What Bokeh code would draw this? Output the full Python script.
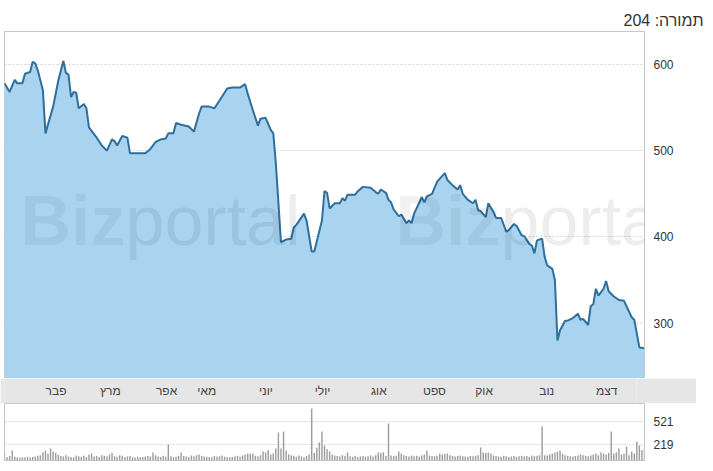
from bokeh.plotting import figure
from bokeh.models import Range1d, FixedTicker, Label
from bokeh.layouts import column
from bokeh.embed import file_html
from bokeh.resources import INLINE
from bokeh.core.properties import value

TITLE = "תמורה: 204"
MONTH_LABELS = ["פבר", "מרץ", "אפר", "מאי", "יוני", "יולי", "אוג", "ספט", "אוק", "נוב", "דצמ"]
MONTH_POS = [20.4, 41.9, 64.1, 80.0, 103.4, 125.8, 148.1, 170.1, 189.7, 214.5, 238.2]
PRICE_TICKS = [300, 400, 500, 600]
VOL_TICKS = [219, 521]

# trading-day index and closing price
PRICE_DAY = [0, 2, 4, 5, 7, 8, 10, 11, 12, 13, 15, 16, 19, 21, 23, 24, 25, 26, 27, 28,
             29, 31, 32, 33, 36, 38, 40, 42, 43, 44, 46, 48, 49, 55, 57, 59, 61, 63, 64, 66,
             67, 69, 72, 74, 76, 77, 80, 82, 84, 87, 89, 92, 94, 95, 97, 99, 100, 102, 104, 105,
             106, 108, 110, 112, 113, 114, 117, 118, 120, 121, 124, 125, 126, 127, 129, 131, 132, 133, 134, 137,
             138, 140, 143, 145, 146, 147, 149, 150, 151, 152, 154, 155, 157, 158, 159, 160, 163, 164, 165, 167,
             169, 172, 173, 175, 177, 178, 179, 181, 183, 184, 185, 186, 188, 189, 191, 192, 194, 196, 197, 199,
             200, 202, 203, 205, 206, 207, 208, 210, 211, 212, 214, 215, 216, 217, 219, 220, 222, 224, 225, 226,
             228, 229, 230, 231, 232, 234, 235, 236, 238, 240, 242, 245, 246, 248, 250]
PRICE = [578, 568, 582, 578, 578, 589, 591, 603, 601, 593, 570, 520, 551, 581, 604, 590, 588, 562, 568, 567,
         549, 554, 549, 527, 515, 506, 500, 513, 511, 506, 517, 515, 497, 497, 502, 510, 513, 514, 520, 520,
         532, 530, 528, 522, 543, 551, 551, 549, 558, 572, 573, 573, 577, 566, 547, 529, 537, 538, 524, 520,
         485, 394, 397, 398, 411, 414, 427, 419, 383, 383, 419, 453, 451, 433, 439, 439, 445, 442, 449, 449,
         453, 458, 457, 452, 450, 455, 451, 443, 440, 432, 424, 426, 416, 419, 416, 427, 446, 440, 447, 450,
         464, 474, 466, 460, 455, 460, 450, 443, 439, 443, 431, 430, 423, 439, 429, 422, 422, 406, 408, 415,
         413, 402, 401, 392, 390, 381, 396, 398, 377, 367, 363, 350, 280, 292, 303, 303, 306, 311, 304, 305,
         298, 320, 322, 340, 332, 340, 349, 337, 331, 327, 326, 307, 304, 272, 271]

VOLUME = [106, 45, 60, 133, 50, 40, 38, 45, 42, 50,
          40, 48, 55, 62, 70, 110, 133, 90, 160, 120,
          100, 75, 60, 55, 70, 52, 48, 45, 66, 58,
          50, 62, 48, 80, 93, 55, 60, 45, 70, 62,
          55, 80, 100, 58, 50, 70, 62, 48, 53, 60,
          45, 40, 50, 42, 48, 55, 60, 52, 106, 70,
          55, 48, 62, 50, 213, 58, 45, 50, 60, 106,
          60, 52, 48, 66, 58, 70, 80, 62, 55, 50,
          48, 45, 60, 52, 58, 66, 50, 45, 42, 48,
          55, 62, 50, 66, 80, 93, 90, 93, 62, 58,
          70, 120, 106, 140, 80, 93, 160, 372, 160, 386,
          133, 80, 70, 62, 50, 66, 58, 45, 60, 80,
          692, 100, 170, 240, 386, 200, 150, 120, 80, 66,
          60, 55, 70, 62, 106, 58, 50, 62, 48, 55,
          60, 50, 58, 66, 55, 70, 106, 100, 110, 60,
          492, 66, 58, 62, 120, 93, 70, 60, 55, 66,
          58, 62, 55, 70, 80, 133, 66, 60, 58, 62,
          93, 80, 90, 93, 70, 62, 55, 60, 66, 58,
          55, 50, 60, 58, 62, 70, 173, 106, 100, 106,
          93, 66, 60, 55, 50, 62, 58, 48, 55, 60,
          50, 58, 62, 55, 60, 48, 66, 58, 62, 70,
          452, 70, 66, 80, 93, 106, 120, 133, 93, 70,
          62, 58, 55, 60, 66, 80, 70, 62, 58, 66,
          80, 93, 70, 106, 93, 80, 100, 386, 93, 106,
          160, 80, 93, 186, 70, 120, 93, 253, 200, 140, 160]
VOL_DAY = list(range(len(VOLUME)))

PRICE_MIN, PRICE_MAX = 236, 638
VOL_MAX = 760
FONT = value("Liberation Sans")

xr = Range1d(0, 250)

# ---- price panel ----
p = figure(width=704, height=378, x_range=xr, y_range=Range1d(PRICE_MIN, PRICE_MAX),
           output_backend="svg", toolbar_location=None,
           x_axis_location=None, y_axis_location="right", title=TITLE,
           min_border_left=4, min_border_right=60, min_border_top=31, min_border_bottom=0,
           outline_line_color="#c8c8c8", background_fill_color="white", border_fill_color="white")
p.title.align = "right"
p.title.offset = -59
p.title.text_font = "Liberation Sans"
p.title.text_font_size = "16px"
p.title.text_font_style = "normal"
p.title.text_color = "#333333"
p.title.standoff = 6
p.xgrid.visible = False
p.ygrid.ticker = FixedTicker(ticks=PRICE_TICKS)
p.ygrid.grid_line_color = "#cdd5dc"
p.ygrid.grid_line_dash = "2 2"
ax = p.yaxis[0]
ax.ticker = FixedTicker(ticks=PRICE_TICKS)
ax.major_tick_line_color = None
ax.minor_tick_line_color = None
ax.axis_line_color = "#c8c8c8"
ax.major_label_text_font = "Liberation Sans"
ax.major_label_text_font_size = "12px"
ax.major_label_text_color = "#333333"
ax.major_label_standoff = 3

p.varea(x=PRICE_DAY, y1=PRICE_MIN, y2=PRICE, fill_color="#a9d3ef", fill_alpha=1.0)
p.line(x=PRICE_DAY, y=PRICE, line_color="#2e6f9c", line_width=2)

for bx, px in [(16, 121), (391, 496)]:
    p.add_layout(Label(x=bx, y=158, x_units="screen", y_units="screen", text="Biz",
                       text_font="Liberation Sans", text_font_style="bold", text_font_size="70px",
                       text_color="#000000", text_alpha=0.05, text_baseline="alphabetic"))
    p.add_layout(Label(x=px, y=158, x_units="screen", y_units="screen", text="portal",
                       text_font="Liberation Sans", text_font_size="70px",
                       text_color="#000000", text_alpha=0.07, text_baseline="alphabetic"))

# ---- month band ----
b = figure(width=696, height=25, x_range=xr, y_range=Range1d(0, 1),
           output_backend="svg", toolbar_location=None,
           x_axis_location=None, y_axis_location=None,
           min_border_left=4, min_border_right=52, min_border_top=0, min_border_bottom=0,
           outline_line_color=None, background_fill_color="#e6e6e6", border_fill_color="#e6e6e6")
b.grid.visible = False
b.text(x=MONTH_POS, y=[0.5] * len(MONTH_POS), text=MONTH_LABELS, text_font=FONT,
       text_font_size="12px", text_color="#444444", text_align="center", text_baseline="middle")

# ---- volume panel ----
v = figure(width=704, height=59, x_range=xr, y_range=Range1d(0, VOL_MAX),
           output_backend="svg", toolbar_location=None,
           x_axis_location=None, y_axis_location="right",
           min_border_left=4, min_border_right=60, min_border_top=0, min_border_bottom=2,
           outline_line_color="#c8c8c8", background_fill_color="white", border_fill_color="white")
v.xgrid.visible = False
v.ygrid.ticker = FixedTicker(ticks=VOL_TICKS)
v.ygrid.grid_line_color = "#cdd5dc"
v.ygrid.grid_line_dash = "2 2"
vax = v.yaxis[0]
vax.ticker = FixedTicker(ticks=VOL_TICKS)
vax.major_tick_line_color = None
vax.minor_tick_line_color = None
vax.axis_line_color = "#c8c8c8"
vax.major_label_text_font = "Liberation Sans"
vax.major_label_text_font_size = "12px"
vax.major_label_text_color = "#333333"
vax.major_label_standoff = 3
v.vbar(x=VOL_DAY, top=VOLUME, bottom=0, width=0.55, fill_color="#9c9c9c", line_color=None)

layout = column(p, b, v, spacing=0)
open("out.html", "w").write(file_html(layout, INLINE))
